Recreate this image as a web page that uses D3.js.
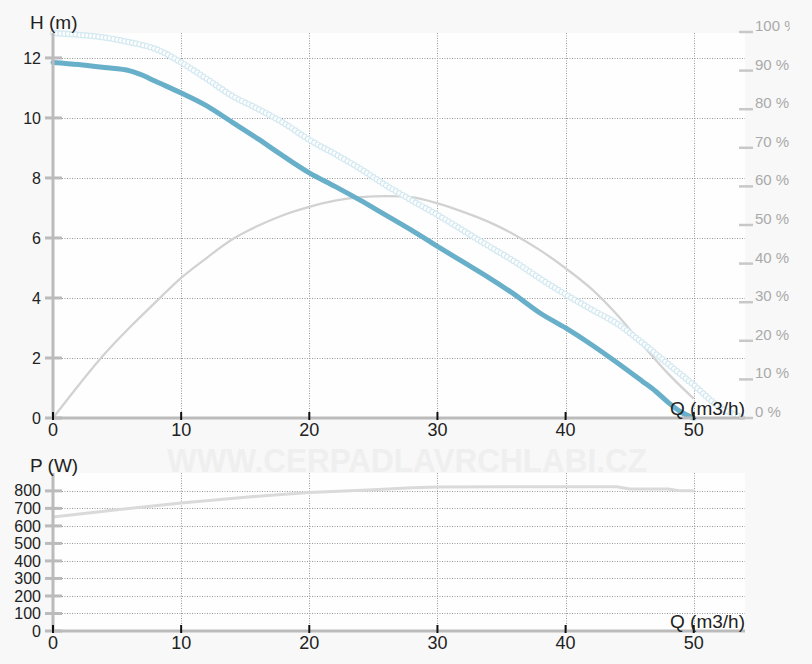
<!DOCTYPE html>
<html><head><meta charset="utf-8">
<script src="https://cdn.jsdelivr.net/npm/d3@7"></script>
<style>
html,body{margin:0;padding:0;background:#f8f8f8;}
svg{display:block;font-family:"Liberation Sans",Arial,sans-serif;}
</style></head><body>
<svg id="c" width="790" height="664"></svg>
<script>
// ---- data ----
const qTicks = [0,10,20,30,40,50];
const hTicks = [0,2,4,6,8,10,12];
const effTicks = [0,10,20,30,40,50,60,70,80,90,100];
const pTicks = [0,100,200,300,400,500,600,700,800];

const headQ = [0,2,4,6,7,8,10,12,14,16,18,20,22,24,26,28,30,32,34,36,38,40,42,44,46,47,48,49,50];
const headH = [11.85,11.78,11.68,11.57,11.42,11.22,10.83,10.4,9.85,9.3,8.72,8.17,7.72,7.25,6.75,6.25,5.72,5.2,4.68,4.12,3.5,3.0,2.45,1.85,1.22,0.9,0.52,0.2,0];

const effQ = [0,2,4,6,8,10,12,14,16,18,20,22,24,26,28,30,32,34,36,38,40,42,44,46,48,50];
const effV = [0,8.5,16.5,23.5,30,36.3,41.5,46.3,49.8,52.6,54.7,56.3,57.2,57.5,57.2,55.6,53.4,50.8,47.5,43.5,38.8,33.5,26.8,19,11.5,5];

const dotQ = [0,2,4,6,8,10,12,14,16,18,20,22,24,26,28,30,32,34,36,38,40,42,44,46,48,50,52,54];
const dotH = [12.83,12.77,12.68,12.52,12.3,11.85,11.3,10.73,10.3,9.83,9.27,8.8,8.3,7.75,7.25,6.77,6.25,5.73,5.22,4.65,4.12,3.62,3.15,2.5,1.8,1.1,0.37,0];

const powQ = [0,5,10,15,20,25,28,30,35,40,44,45,48,49,50];
const powW = [651,692,731,764,791,806,818,822,823,823,823,811,811,800,800];

// ---- layout ----
const svg = d3.select("#c");
const X0 = 53, X1 = 745;
const T = {top:33, bottom:418};
const B = {top:473, bottom:631};

const x = d3.scaleLinear().domain([0,54]).range([X0,X1]);
const yH = d3.scaleLinear().domain([0,12.83]).range([T.bottom,T.top]);
const yE = d3.scaleLinear().domain([0,100]).range([T.bottom,32]);
const yP = d3.scaleLinear().domain([0,902]).range([B.bottom,B.top]);

// watermark
svg.append("text").attr("x",167).attr("y",472).attr("textLength",480).attr("lengthAdjust","spacingAndGlyphs")
  .attr("font-size",33).attr("font-weight","bold").attr("fill","#efefef").text("WWW.CERPADLAVRCHLABI.CZ");

function panel(y, yTicks, box){
  svg.append("rect").attr("x",X0).attr("y",box.top).attr("width",X1-X0).attr("height",box.bottom-box.top).attr("fill","#fefefe");
  const g = svg.append("g").attr("stroke","#999").attr("stroke-width",1).attr("stroke-dasharray","1,1.5");
  g.selectAll("line.h").data(yTicks.filter(d=>d>0)).join("line")
    .attr("x1",62).attr("x2",X1).attr("y1",d=>Math.round(y(d))+0.5).attr("y2",d=>Math.round(y(d))+0.5);
  g.selectAll("line.v").data(qTicks.filter(d=>d>0)).join("line")
    .attr("x1",d=>Math.round(x(d))+0.5).attr("x2",d=>Math.round(x(d))+0.5).attr("y1",box.top).attr("y2",box.bottom);
}
function axes(y, yTicks, box, fsY){
  svg.append("line").attr("x1",X0).attr("x2",X0).attr("y1",box.top).attr("y2",box.bottom).attr("stroke","#bbb").attr("stroke-width",3);
  svg.append("g").selectAll("line").data(yTicks).join("line")
    .attr("x1",45).attr("x2",62).attr("y1",d=>y(d)).attr("y2",d=>y(d)).attr("stroke","#bbb").attr("stroke-width",3);
  svg.append("g").selectAll("text").data(yTicks).join("text")
    .attr("x",41).attr("y",d=>y(d)).attr("dy","0.35em").attr("text-anchor","end")
    .attr("font-size",fsY).attr("fill","#222").text(d=>d);
  svg.append("line").attr("x1",X0).attr("x2",X1).attr("y1",box.bottom).attr("y2",box.bottom).attr("stroke","#bbb").attr("stroke-width",3);
  svg.append("g").selectAll("line").data(qTicks).join("line")
    .attr("x1",d=>x(d)).attr("x2",d=>x(d)).attr("y1",box.bottom-6).attr("y2",box.bottom+2).attr("stroke","#111").attr("stroke-width",2);
  svg.append("g").selectAll("text").data(qTicks).join("text")
    .attr("x",d=>x(d)).attr("y",box.bottom+18).attr("text-anchor","middle")
    .attr("font-size",18).attr("fill","#222").text(d=>d);
  svg.append("text").attr("x",X1).attr("y",box.bottom-3).attr("text-anchor","end")
    .attr("font-size",19).attr("fill","#222").text("Q (m3/h)");
}

// ---------- top panel ----------
panel(yH, hTicks, T);
const line = (yy)=>d3.line().x(d=>x(d[0])).y(d=>yy(d[1]));

// efficiency
svg.append("path").datum(effQ.map((q,i)=>[q,effV[i]])).attr("d",line(yE).curve(d3.curveCatmullRom))
  .attr("fill","none").attr("stroke","#d2d2d2").attr("stroke-width",2.3);

// dotted (ring chain) curve
const dp = svg.append("path").datum(dotQ.map((q,i)=>[q,dotH[i]])).attr("d",line(yH).curve(d3.curveMonotoneX))
  .attr("fill","none").attr("stroke","none");
const node = dp.node(), L = node.getTotalLength();
const pts = d3.range(0,L,3.8).map(l=>node.getPointAtLength(l));
svg.append("g").selectAll("circle").data(pts).join("circle")
  .attr("cx",p=>p.x).attr("cy",p=>p.y).attr("r",2.6)
  .attr("fill","#ffffff").attr("stroke","#d4e9f1").attr("stroke-width",1.2);

// head
svg.append("path").datum(headQ.map((q,i)=>[q,headH[i]])).attr("d",line(yH).curve(d3.curveMonotoneX))
  .attr("fill","none").attr("stroke","#68afc9").attr("stroke-width",5).attr("stroke-linecap","round");

axes(yH, hTicks, T, 16);
svg.append("text").attr("x",30).attr("y",29).attr("font-size",19).attr("fill","#222").text("H (m)");

// right efficiency axis
svg.append("g").selectAll("line").data(effTicks).join("line")
  .attr("x1",739).attr("x2",753).attr("y1",d=>yE(d)).attr("y2",d=>yE(d)).attr("stroke","#c8c8c8").attr("stroke-width",2.5);
svg.append("g").selectAll("text").data(effTicks).join("text")
  .attr("x",755).attr("y",d=>yE(d)-1).attr("font-size",15).attr("fill","#aaa").text(d=>d+" %");

// ---------- bottom panel ----------
panel(yP, pTicks, B);
svg.append("path").datum(powQ.map((q,i)=>[q,powW[i]])).attr("d",line(yP))
  .attr("fill","none").attr("stroke","#dadada").attr("stroke-width",3);
axes(yP, pTicks, B, 16);
svg.append("text").attr("x",30).attr("y",472).attr("font-size",19).attr("fill","#222").text("P (W)");
</script>
</body></html>
